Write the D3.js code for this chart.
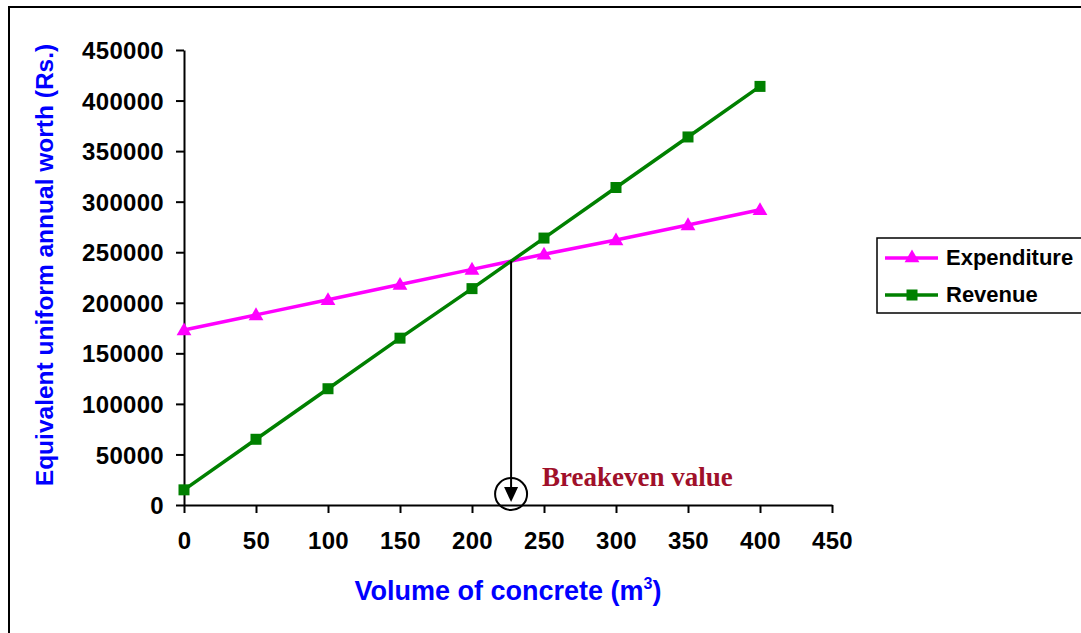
<!DOCTYPE html>
<html>
<head>
<meta charset="utf-8">
<script src="https://cdn.jsdelivr.net/npm/d3@7"></script>
<style>
  html, body { margin: 0; padding: 0; background: #fff; }
  svg { display: block; }
  text { font-family: "Liberation Sans", Arial, sans-serif; font-weight: bold; }
</style>
</head>
<body>
<svg id="chart" width="1081" height="633"></svg>
<script>
// Volume of concrete (m3) and the equivalent uniform annual worth (Rs.)
const volumes = [0, 50, 100, 150, 200, 250, 300, 350, 400];
const expenditure = [173000, 188000, 203000, 218000, 233000, 248000, 262000, 277000, 292000];
const revenue = [15000, 65000, 115000, 165000, 214000, 264000, 314000, 364000, 414000];
const xTicks = [0, 50, 100, 150, 200, 250, 300, 350, 400, 450];
const yTicks = [0, 50000, 100000, 150000, 200000, 250000, 300000, 350000, 400000, 450000];
const seriesNames = ["Expenditure", "Revenue"];

const svg = d3.select("#chart");

// outer chart frame
svg.append("rect")
  .attr("x", 9).attr("y", 7)
  .attr("width", 1100).attr("height", 660)
  .attr("fill", "none").attr("stroke", "#000").attr("stroke-width", 2);

const x = d3.scaleLinear().domain([0, 450]).range([184, 832]);
const y = d3.scaleLinear().domain([0, 450000]).range([505, 50]);

// axes
const xAxis = svg.append("g")
  .attr("transform", `translate(0,${y(0)})`)
  .call(d3.axisBottom(x).tickValues(xTicks).tickSize(8).tickSizeOuter(0).tickPadding(19));
const yAxis = svg.append("g")
  .attr("transform", `translate(${x(0)},0)`)
  .call(d3.axisLeft(y).tickValues(yTicks).tickSize(8).tickSizeOuter(0).tickPadding(12)
    .tickFormat(d3.format("d")));

[xAxis, yAxis].forEach(g => {
  g.select(".domain").attr("stroke", "#000").attr("stroke-width", 2);
  g.selectAll(".tick line").attr("stroke", "#000").attr("stroke-width", 2);
  g.selectAll(".tick text")
    .attr("fill", "#000")
    .style("font-size", "24px")
    .style("font-family", "'Liberation Sans', Arial, sans-serif")
    .style("font-weight", "bold")
    .style("letter-spacing", "0.3px");
});
yAxis.selectAll(".tick text").attr("dy", "0.36em");

// axis titles
svg.append("text")
  .attr("transform", `translate(53,265) rotate(-90)`)
  .attr("text-anchor", "middle")
  .attr("fill", "#0000ff")
  .style("font-size", "24.5px")
  .text("Equivalent uniform annual worth (Rs.)");

const xt = svg.append("text")
  .attr("x", 508).attr("y", 600)
  .attr("text-anchor", "middle")
  .attr("fill", "#0000ff")
  .style("font-size", "27px");
xt.append("tspan").text("Volume of concrete (m");
xt.append("tspan").attr("dy", -11).style("font-size", "16px").text("3");
xt.append("tspan").attr("dy", 11).text(")");

// series lines and markers
const expData = volumes.map((v, i) => [v, expenditure[i]]);
const revData = volumes.map((v, i) => [v, revenue[i]]);
const line = d3.line().x(d => x(d[0])).y(d => y(d[1]));

const colours = { Expenditure: "#ff00ff", Revenue: "#008000" };
const triangle = d3.symbol().type(d3.symbolTriangle).size(95);

svg.append("path").datum(expData).attr("d", line)
  .attr("fill", "none").attr("stroke", colours.Expenditure).attr("stroke-width", 3.5);
svg.append("path").datum(revData).attr("d", line)
  .attr("fill", "none").attr("stroke", colours.Revenue).attr("stroke-width", 3.5);

svg.selectAll(".expMark").data(expData).enter().append("path")
  .attr("class", "expMark")
  .attr("d", triangle)
  .attr("transform", d => `translate(${x(d[0])},${y(d[1]) + 1})`)
  .attr("fill", colours.Expenditure);

svg.selectAll(".revMark").data(revData).enter().append("rect")
  .attr("class", "revMark")
  .attr("x", d => x(d[0]) - 5.5).attr("y", d => y(d[1]) - 5.5)
  .attr("width", 11).attr("height", 11)
  .attr("fill", colours.Revenue);

// breakeven point: where the two series cross
let be = null;
for (let i = 0; i < volumes.length - 1 && !be; i++) {
  const d0 = expenditure[i] - revenue[i];
  const d1 = expenditure[i + 1] - revenue[i + 1];
  if (d0 >= 0 && d1 < 0) {
    const t = d0 / (d0 - d1);
    be = {
      v: volumes[i] + t * (volumes[i + 1] - volumes[i]),
      w: expenditure[i] + t * (expenditure[i + 1] - expenditure[i])
    };
  }
}
const bx = x(be.v);
const tipY = y(0) - 3;
svg.append("line")
  .attr("x1", bx).attr("x2", bx)
  .attr("y1", y(be.w)).attr("y2", tipY - 12)
  .attr("stroke", "#000").attr("stroke-width", 2);
svg.append("path")
  .attr("d", `M${bx - 7},${tipY - 15} L${bx + 7},${tipY - 15} L${bx},${tipY} Z`)
  .attr("fill", "#000");
svg.append("circle")
  .attr("cx", bx).attr("cy", y(0) - 11).attr("r", 16)
  .attr("fill", "none").attr("stroke", "#000").attr("stroke-width", 2);
svg.append("text")
  .attr("x", 542).attr("y", 486)
  .attr("fill", "#a0102a")
  .style("font-family", "'Liberation Serif', 'Times New Roman', serif")
  .style("font-size", "27px")
  .text("Breakeven value");

// legend
const legend = svg.append("g");
legend.append("rect")
  .attr("x", 877).attr("y", 238).attr("width", 260).attr("height", 75)
  .attr("fill", "#fff").attr("stroke", "#000").attr("stroke-width", 1.5);
seriesNames.forEach((name, i) => {
  const ly = 258 + i * 37;
  const g = legend.append("g");
  g.append("line")
    .attr("x1", 885).attr("x2", 938).attr("y1", ly).attr("y2", ly)
    .attr("stroke", colours[name]).attr("stroke-width", 3.5);
  if (name === "Expenditure") {
    g.append("path").attr("d", triangle).attr("transform", `translate(912,${ly})`)
      .attr("fill", colours[name]);
  } else {
    g.append("rect").attr("x", 912 - 5.5).attr("y", ly - 5.5)
      .attr("width", 11).attr("height", 11).attr("fill", colours[name]);
  }
  g.append("text")
    .attr("x", 946).attr("y", ly + 7)
    .attr("fill", "#000")
    .style("font-size", "22px")
    .text(name);
});
</script>
</body>
</html>
